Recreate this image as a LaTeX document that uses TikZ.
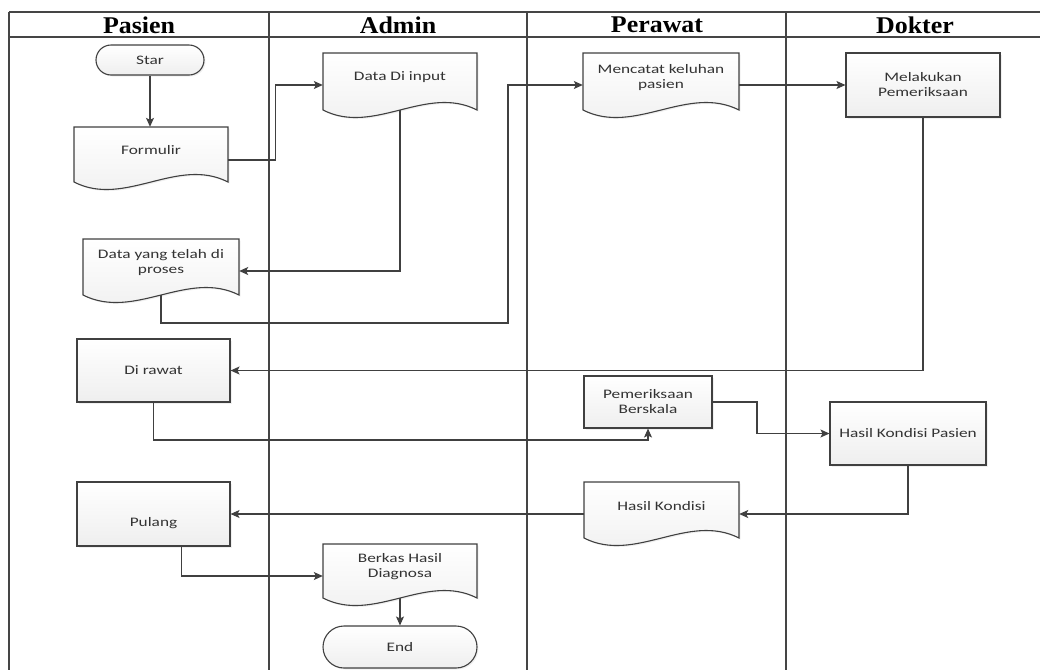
\documentclass[tikz,border=0pt]{standalone}
\usepackage{fontspec}
\setsansfont[FakeStretch=1.33]{Carlito}
\newfontfamily\headfont[FakeStretch=1.08]{Liberation Serif}
\usetikzlibrary{arrows.meta,shapes.misc,shadows}

\definecolor{edge}{HTML}{404040}
\definecolor{lane}{HTML}{454545}
\definecolor{ink}{HTML}{333333}

\tikzset{
  boxfill/.style={draw=edge, line width=1.1pt, top color=white, bottom color=gray!13,
    drop shadow={opacity=0.12, shadow xshift=1.5pt, shadow yshift=-1.5pt}},
  procbox/.style={boxfill, rectangle, inner sep=0pt},
  termbox/.style={boxfill, rounded rectangle, inner sep=0pt},
  anchorbox/.style={rectangle, inner sep=0pt},
  txt/.style={font=\sffamily\fontsize{13}{15}\selectfont, text=ink, align=center, inner sep=0pt},
  flow/.style={draw=edge, line width=1.1pt, -{Stealth[length=9pt,width=8pt,inset=2pt]}},
  lanerule/.style={draw=lane, line width=2.8pt},
  head/.style={font=\headfont\bfseries\fontsize{24}{28}\selectfont, text=black, inner sep=0pt},
}

% document symbol: name, x1, y1, x2, y2 (y2 = end of the straight sides), text
\newcommand\docsym[6]{%
  \path[boxfill] (#2,#3) -- (#4,#3) -- (#4,#5)
    .. controls ({#2+0.67*(#4-#2)},{#5-26}) and ({#2+0.33*(#4-#2)},{#5+26}) .. (#2,#5) -- cycle;
  \node[anchorbox, minimum width={(#4-#2)*1pt}, minimum height={(#5-#3)*1pt}]
    (#1) at ({(#2+#4)/2},{(#3+#5)/2}) {};
  \node[txt] (#1-t) at ({(#2+#4)/2},{(#3+#5)/2-4}) {#6};
}

\begin{document}
\begin{tikzpicture}[x=1pt, y=-1pt]
\useasboundingbox (0,0) rectangle (1040,670);

% swimlane frame
\draw[lanerule] (9,12) -- (1040,12);
\draw[lanerule] (9,37) -- (1040,37);
\foreach \lx in {9,269,527,786}
  \draw[lanerule] (\lx,12) -- (\lx,670);

\node[head] (hPasien)  at (139,25) {Pasien};
\node[head] (hAdmin)   at (398,25) {Admin};
\node[head] (hPerawat) at (657,25) {Perawat};
\node[head] (hDokter)  at (915,25) {Dokter};

% terminators
\node[termbox, txt, minimum width=108pt, minimum height=30pt] (star) at (150,60) {Star};
\node[termbox, txt, minimum width=154pt, minimum height=42pt] (end) at (400,647) {End};

% documents
\docsym{formulir}{74}{127}{228}{182}{Formulir}
\docsym{datainput}{323}{53}{477}{110}{Data Di input}
\docsym{mencatat}{583}{53}{739}{110}{Mencatat keluhan\\pasien}
\docsym{datayang}{83}{239}{239}{295}{Data yang telah di\\proses}
\docsym{hasilkondisi}{584}{482}{739}{538}{Hasil Kondisi}
\docsym{berkas}{323}{544}{477}{598}{Berkas Hasil\\Diagnosa}

% processes
\node[procbox, txt, minimum width=154pt, minimum height=64pt] (melakukan) at (923,85) {Melakukan\\Pemeriksaan};
\node[procbox, txt, minimum width=153pt, minimum height=63pt] (dirawat) at (153.5,370.5) {Di rawat};
\node[procbox, txt, minimum width=128pt, minimum height=52pt] (periksa) at (648,402) {Pemeriksaan\\Berskala};
\node[procbox, txt, minimum width=156pt, minimum height=63pt] (hasilpasien) at (908,433.5) {Hasil Kondisi Pasien};
\node[procbox, minimum width=153pt, minimum height=64pt] (pulang) at (153.5,514) {};
\node[txt] (pulang-t) at (153.5,523) {Pulang};

% routing points
\coordinate (j1) at (508,323);
\coordinate (j2) at (648,440);
\coordinate (j3) at (757,402);

% connectors
\draw[flow] (star.south) -- (star.south |- formulir.north);
\draw[flow] ([yshift=-5.5pt]formulir.east) -- ++(47,0) |- ([yshift=-3.5pt]datainput.west);
\draw[flow] (datainput.south) |- ([yshift=-4pt]datayang.east);
\draw[flow] (datayang.south) |- (j1) |- ([yshift=-3.5pt]mencatat.west);
\draw[flow] ([yshift=-3.5pt]mencatat.east) -- (melakukan.west);
\draw[flow] (melakukan.south) |- (dirawat.east);
\draw[flow] (dirawat.south) |- (j2) -- (periksa.south);
\draw[flow] (periksa.east) -- (j3) |- (hasilpasien.west);
\draw[flow] (hasilpasien.south) |- ([yshift=-4pt]hasilkondisi.east);
\draw[flow] ([yshift=-4pt]hasilkondisi.west) -- (pulang.east);
\draw[flow] ([xshift=28pt]pulang.south) |- ([yshift=-5pt]berkas.west);
\draw[flow] (berkas.south) -- (end.north);
\end{tikzpicture}
\end{document}
